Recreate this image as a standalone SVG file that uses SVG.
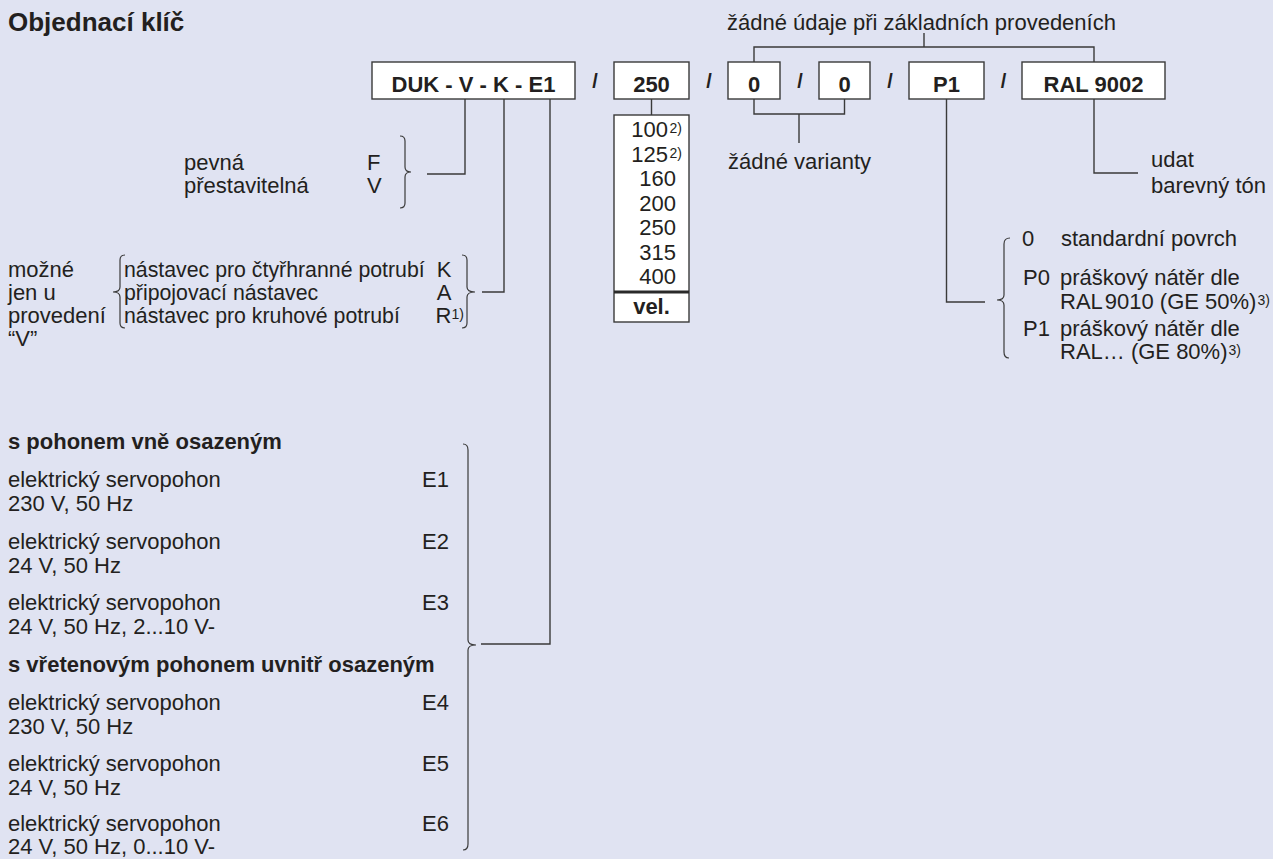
<svg xmlns="http://www.w3.org/2000/svg" width="1273" height="859" viewBox="0 0 1273 859">
<style>
text { font-family: "Liberation Sans", Arial, sans-serif; font-size: 22px; fill: #231f20; }
.b { font-weight: bold; }
.t { font-size: 26px; font-weight: bold; }
.box { fill: #ffffff; stroke: #3a3a3a; stroke-width: 1.4; }
.ln { fill: none; stroke: #3a3a3a; stroke-width: 1.4; }
.br { fill: none; stroke: #3a3a3a; stroke-width: 1.2; }
.sl { font-size: 20px; font-weight: bold; text-anchor: middle; }
.sup { font-size: 14px; }
.mid { text-anchor: middle; }
.end { text-anchor: end; }
.nar { font-size: 21.3px; }
</style>
<rect width="1273" height="859" fill="#e0e3f2"/>

<g id="title"><text class="t" x="8" y="31">Objednací klíč</text></g>

<g id="box-duk"><rect class="box" x="372" y="62" width="203" height="37"/><text class="b mid" x="473.5" y="92" font-size="22.5">DUK - V - K - E1</text></g>
<g id="box-250"><rect class="box" x="614" y="62" width="75" height="37"/><text class="b mid" x="651.5" y="92">250</text></g>
<g id="box-0a"><rect class="box" x="728" y="62" width="52" height="37"/><text class="b mid" x="754" y="92">0</text></g>
<g id="box-0b"><rect class="box" x="819" y="62" width="51" height="37"/><text class="b mid" x="844.5" y="92">0</text></g>
<g id="box-p1"><rect class="box" x="909" y="62" width="75" height="37"/><text class="b mid" x="946.5" y="92">P1</text></g>
<g id="box-ral"><rect class="box" x="1022" y="62" width="143" height="37"/><text class="b mid" x="1093.5" y="92">RAL 9002</text></g>

<g id="slashes">
<text class="sl" x="595" y="88">/</text>
<text class="sl" x="709" y="88">/</text>
<text class="sl" x="800" y="88">/</text>
<text class="sl" x="890" y="88">/</text>
<text class="sl" x="1003.5" y="88">/</text>
</g>

<g id="size-list">
<rect class="box" x="614" y="115" width="75" height="207"/>
<line x1="614" y1="292" x2="689" y2="292" stroke="#2a2a2a" stroke-width="3"/>
<text class="end" x="668" y="137">100</text><text class="sup" x="669.5" y="133">2)</text>
<text class="end" x="668" y="161.5">125</text><text class="sup" x="669.5" y="157.5">2)</text>
<text class="end" x="676" y="186">160</text>
<text class="end" x="676" y="210.5">200</text>
<text class="end" x="676" y="235">250</text>
<text class="end" x="676" y="259.5">315</text>
<text class="end" x="676" y="284">400</text>
<text class="b mid" x="651.5" y="314">vel.</text>
</g>

<g id="note-top"><text x="727" y="30">žádné údaje při základních provedeních</text></g>
<g id="note-variants"><text x="728" y="169">žádné varianty</text></g>
<g id="note-color"><text x="1151" y="167">udat</text><text x="1151" y="193">barevný tón</text></g>

<g id="opt-fv">
<text x="184" y="170">pevná</text><text x="367" y="170">F</text>
<text x="184" y="193">přestavitelná</text><text x="367" y="193">V</text>
<path class="br" d="M400,136 Q405,136 405,141 L405,167 Q405,172 411,172 Q405,172 405,177 L405,203 Q405,208 400,208"/>
</g>

<g id="opt-kar">
<text x="8" y="277">možné</text>
<text x="8" y="300">jen u</text>
<text x="8" y="323">provedení</text>
<text x="8" y="346">“V”</text>
<path class="br" d="M125,255 Q120,255 120,260 L120,287 Q120,292 113,292 Q120,292 120,297 L120,323 Q120,328 125,328"/>
<text class="nar" x="124" y="277">nástavec pro čtyřhranné potrubí</text><text class="end" x="451.5" y="277">K</text>
<text class="nar" x="124" y="300">připojovací nástavec</text><text class="end" x="451.5" y="300">A</text>
<text class="nar" x="124" y="323">nástavec pro kruhové potrubí</text><text class="end" x="451.5" y="323">R</text><text class="sup" x="451.5" y="319">1)</text>
<path class="br" d="M462,255 Q467,255 467,260 L467,287 Q467,292 475,292 Q467,292 467,297 L467,323 Q467,328 462,328"/>
</g>

<g id="opt-surface">
<path class="br" d="M1010,238 Q1004,238 1004,244 L1004,295 Q1004,300 997,300 Q1004,300 1004,305 L1004,352 Q1004,358 1009,358"/>
<text x="1022" y="246">0</text><text x="1061" y="246">standardní povrch</text>
<text x="1023" y="285">P0</text><text x="1060" y="285">práškový nátěr dle</text>
<text x="1060" y="309">RAL<tspan dx="2">9010 (GE 50%)</tspan><tspan class="sup" dx="1" dy="-4">3)</tspan></text>
<text x="1023" y="336">P1</text><text x="1060" y="336">práškový nátěr dle</text>
<text x="1060" y="359">RAL… (GE 80%)<tspan class="sup" dx="1" dy="-4">3)</tspan></text>
</g>

<g id="opt-drive">
<text class="b" x="8" y="449">s pohonem vně osazeným</text>
<text x="8" y="487">elektrický servopohon</text><text x="422" y="487">E1</text>
<text x="8" y="511">230 V, 50 Hz</text>
<text x="8" y="549">elektrický servopohon</text><text x="422" y="549">E2</text>
<text x="8" y="573">24 V, 50 Hz</text>
<text x="8" y="610">elektrický servopohon</text><text x="422" y="610">E3</text>
<text x="8" y="634">24 V, 50 Hz, 2...10 V-</text>
<text class="b" x="8" y="672">s vřetenovým pohonem uvnitř osazeným</text>
<text x="8" y="710">elektrický servopohon</text><text x="422" y="710">E4</text>
<text x="8" y="734">230 V, 50 Hz</text>
<text x="8" y="771">elektrický servopohon</text><text x="422" y="771">E5</text>
<text x="8" y="795">24 V, 50 Hz</text>
<text x="8" y="831">elektrický servopohon</text><text x="422" y="831">E6</text>
<text x="8" y="854">24 V, 50 Hz, 0...10 V-</text>
<path class="br" d="M463,444 Q468,444 468,450 L468,640 Q468,645 476,645 Q468,645 468,650 L468,844 Q468,850 463,850"/>
</g>

<g id="connectors">
<path class="ln" d="M754,62 V47 H1094 V62 M924,47 V33"/>
<path class="ln" d="M754,99 V114 H844.5 V99 M799,114 V143"/>
<path class="ln" d="M651.5,99 V115"/>
<path class="ln" d="M465,99 V174 H427"/>
<path class="ln" d="M504,99 V292 H482"/>
<path class="ln" d="M550,99 V644 H481"/>
<path class="ln" d="M946.5,99 V302 H985"/>
<path class="ln" d="M1094,99 V173 H1138"/>
</g>
</svg>
